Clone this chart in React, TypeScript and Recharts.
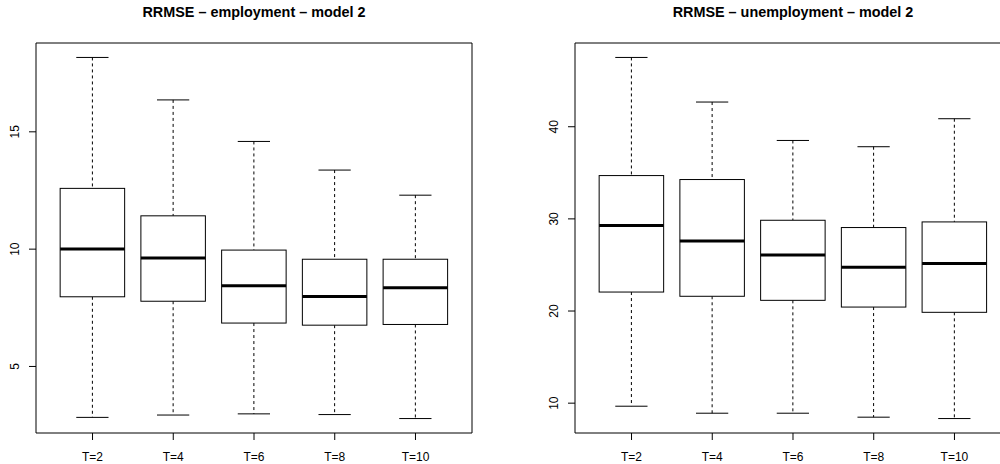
import React from "react";
import {
  ComposedChart,
  Bar,
  XAxis,
  YAxis,
  ReferenceLine,
} from "recharts";

// categories on the x axis
const categories = ["T=2", "T=4", "T=6", "T=8", "T=10"];

// RRMSE employment - model 2 (five number summary per T)
const empMin = [2.83, 2.93, 2.98, 2.95, 2.78];
const empQ1 = [7.97, 7.78, 6.85, 6.76, 6.79];
const empMed = [10.01, 9.62, 8.44, 7.98, 8.35];
const empQ3 = [12.59, 11.42, 9.96, 9.57, 9.57];
const empMax = [18.17, 16.36, 14.59, 13.37, 12.3];
const empTicks = [5, 10, 15];

// RRMSE unemployment - model 2
const unMin = [9.67, 8.91, 8.91, 8.48, 8.33];
const unQ1 = [22.06, 21.6, 21.16, 20.43, 19.86];
const unMed = [29.27, 27.61, 26.09, 24.75, 25.15];
const unQ3 = [34.7, 34.27, 29.85, 29.06, 29.67];
const unMax = [47.52, 42.68, 38.51, 37.83, 40.87];
const unTicks = [10, 20, 30, 40];

const FONT = '"Liberation Sans", Arial, Helvetica, sans-serif';

type Row = { pos: number; name: string; min: number; q1: number; med: number; q3: number; max: number };

const buildRows = (mn: number[], q1: number[], md: number[], q3: number[], mx: number[]): Row[] =>
  categories.map((name, i) => ({
    pos: i + 1,
    name,
    min: mn[i],
    q1: q1[i],
    med: md[i],
    q3: q3[i],
    max: mx[i],
  }));

// R style: extend data range by 4% on each side
const rDomain = (lo: number, hi: number): [number, number] => {
  const r = hi - lo;
  return [lo - 0.04 * r, hi + 0.04 * r];
};

// draws the whole boxplot from the [min, max] range bar the library gives us
const BoxShape = (props: any) => {
  const { x, y, width, height, payload } = props;
  const span = payload.max - payload.min;
  const ppu = span > 0 ? height / span : 0;
  const yOf = (v: number) => y + (payload.max - v) * ppu;
  const cx = x + width / 2;
  const cap = width / 4;
  return (
    <g>
      <line x1={cx} x2={cx} y1={yOf(payload.max)} y2={yOf(payload.q3)} stroke="#000" strokeDasharray="3 3" />
      <line x1={cx} x2={cx} y1={yOf(payload.q1)} y2={yOf(payload.min)} stroke="#000" strokeDasharray="3 3" />
      <line x1={cx - cap} x2={cx + cap} y1={yOf(payload.max)} y2={yOf(payload.max)} stroke="#000" />
      <line x1={cx - cap} x2={cx + cap} y1={yOf(payload.min)} y2={yOf(payload.min)} stroke="#000" />
      <rect x={x} y={yOf(payload.q3)} width={width} height={yOf(payload.q1) - yOf(payload.q3)} fill="#fff" stroke="#000" />
      <line x1={x} x2={x + width} y1={yOf(payload.med)} y2={yOf(payload.med)} stroke="#000" strokeWidth={3} />
    </g>
  );
};

const YTick = (props: any) => {
  const { x, y, payload } = props;
  return (
    <text
      x={x}
      y={y}
      transform={`rotate(-90 ${x} ${y})`}
      textAnchor="middle"
      fontSize={12}
      fontFamily={FONT}
      fill="#000"
    >
      {payload.value}
    </text>
  );
};

const formatCat = (v: number) => categories[v - 1] ?? "";

function BoxPanel({
  title,
  rows,
  ticks,
  width,
  marginLeft,
  marginRight,
  xMax,
  titleCenter,
  rightEdge,
}: {
  title: string;
  rows: Row[];
  ticks: number[];
  width: number;
  marginLeft: number;
  marginRight: number;
  xMax: number;
  titleCenter: number;
  rightEdge: boolean;
}) {
  const yDom = rDomain(Math.min(...rows.map((r) => r.min)), Math.max(...rows.map((r) => r.max)));
  const xDom: [number, number] = [0.3, xMax];
  return (
    <div style={{ position: "relative", width, height: 464 }}>
      <div
        style={{
          position: "absolute",
          left: titleCenter - 200,
          width: 400,
          top: 2,
          textAlign: "center",
          fontFamily: FONT,
          fontWeight: "bold",
          fontSize: 14.4,
          lineHeight: "20px",
        }}
      >
        {title}
      </div>
      <ComposedChart
        width={width}
        height={464}
        data={rows}
        margin={{ top: 43, right: marginRight, bottom: 0, left: marginLeft }}
      >
        <XAxis
          dataKey="pos"
          type="number"
          domain={xDom}
          ticks={categories.map((_, i) => i + 1)}
          tickFormatter={formatCat}
          axisLine={false}
          tickSize={7}
          tickMargin={12}
          height={31}
          tick={{ fontSize: 12, fontFamily: FONT, fill: "#000" }}
          tickLine={{ stroke: "#000" }}
          allowDataOverflow
        />
        <YAxis
          type="number"
          domain={yDom}
          ticks={ticks}
          width={36}
          axisLine={false}
          tickSize={7}
          tickMargin={10}
          tick={<YTick />}
          tickLine={{ stroke: "#000" }}
          allowDataOverflow
        />
        {/* plot frame */}
        <ReferenceLine y={yDom[1]} stroke="#000" />
        <ReferenceLine y={yDom[0]} stroke="#000" />
        <ReferenceLine x={xDom[0]} stroke="#000" />
        {rightEdge && <ReferenceLine x={xDom[1]} stroke="#000" />}
        <Bar
          dataKey={(d: Row) => [d.min, d.max]}
          shape={<BoxShape />}
          barSize={64.5}
          isAnimationActive={false}
        />
      </ComposedChart>
    </div>
  );
}

export default function App() {
  const emp = buildRows(empMin, empQ1, empMed, empQ3, empMax);
  const un = buildRows(unMin, unQ1, unMed, unQ3, unMax);
  return (
    <div
      style={{
        position: "absolute",
        left: 0,
        top: 0,
        width: 1000,
        height: 464,
        background: "#fff",
      }}
    >
      <div style={{ position: "absolute", left: 0, top: 0 }}>
        <BoxPanel
          title="RRMSE – employment – model 2"
          rows={emp}
          ticks={empTicks}
          width={500}
          marginLeft={0}
          marginRight={28}
          xMax={5.7}
          titleCenter={254}
          rightEdge
        />
      </div>
      <div style={{ position: "absolute", left: 500, top: 0 }}>
        {/* the right panel is cut off by the picture edge, so its x range stops early */}
        <BoxPanel
          title="RRMSE – unemployment – model 2"
          rows={un}
          ticks={unTicks}
          width={500}
          marginLeft={39}
          marginRight={0}
          xMax={5.564}
          titleCenter={293}
          rightEdge={false}
        />
      </div>
    </div>
  );
}
